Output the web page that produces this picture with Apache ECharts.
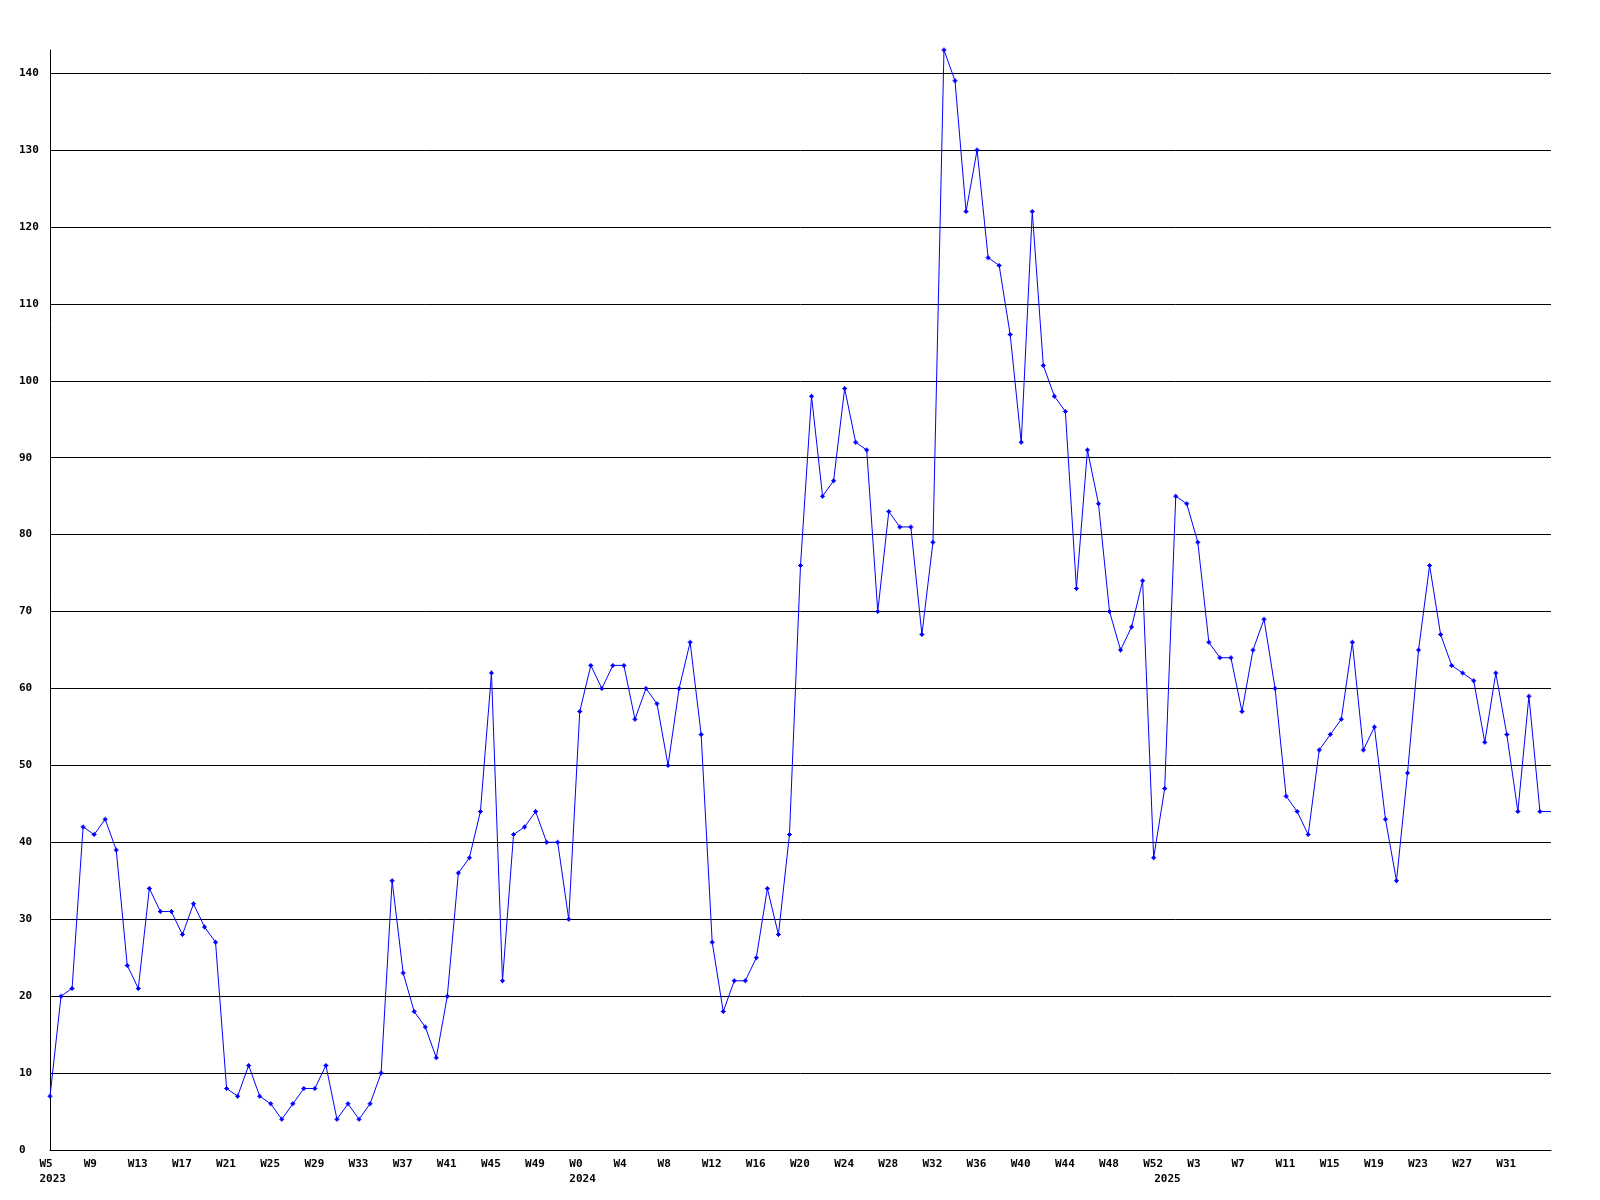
<!DOCTYPE html>
<html>
<head>
<meta charset="utf-8">
<script src="https://cdn.jsdelivr.net/npm/echarts@6/dist/echarts.min.js"></script>
<style>
html,body{margin:0;padding:0;background:#ffffff;}
#chart{width:1600px;height:1200px;}
</style>
</head>
<body>
<div id="chart"></div>
<script>
// ---- data ----
const years = [2023, 2024, 2025];
const firstWeeks = [5, 0, 0];
const values2023 = [7,20,21,42,41,43,39,24,21,34,31,31,28,32,29,27,8,7,11,7,6,4,6,8,8,11,4,6,4,6,10,35,23,18,16,12,20,36,38,44,62,22,41,42,44,40,40,30];
const values2024 = [57,63,60,63,63,56,60,58,50,60,66,54,27,18,22,22,25,34,28,41,76,98,85,87,99,92,91,70,83,81,81,67,79,143,139,122,130,116,115,106,92,122,102,98,96,73,91,84,70,65,68,74,38];
const values2025 = [47,85,84,79,66,64,64,57,65,69,60,46,44,41,52,54,56,66,52,55,43,35,49,65,76,67,63,62,61,53,62,54,44,59,44,44];
const yMin = 0;
const yMax = 143;
const yStep = 10;
const labelEvery = 4;

// ---- build categories ----
const valuesByYear = [values2023, values2024, values2025];
const categories = [];
const values = [];
const yearStart = [];
const yearOf = [];
const weekOf = [];
valuesByYear.forEach(function (arr, k) {
  arr.forEach(function (v, j) {
    categories.push(years[k] + '-W' + (firstWeeks[k] + j));
    values.push(v);
    yearStart.push(j === 0);
    yearOf.push(years[k]);
    weekOf.push(firstWeeks[k] + j);
  });
});
const lastIdx = values.length - 1;
const seriesData = values.map(function (v, i) {
  return i === lastIdx ? { value: v, symbol: 'none' } : v;
});

const font = { fontFamily: 'DejaVu Sans Mono', fontWeight: 'bold', fontSize: 11, color: '#000000' };
const markerPath = 'path://M2,0H3V1H4V2H5V3H4V4H3V5H2V4H1V3H0V2H1V1H2Z';

const chart = echarts.init(document.getElementById('chart'), null, { renderer: 'canvas' });
chart.setOption({
  animation: false,
  backgroundColor: '#ffffff',
  grid: [
    { left: 50, right: 49, top: 50, bottom: 50, containLabel: false },
    { left: 39.5, right: 59.5, top: 50, bottom: 50, containLabel: false }
  ],
  xAxis: [
    {
      type: 'category', gridIndex: 0, data: categories, boundaryGap: false,
      axisLine: { show: true, lineStyle: { color: '#000000', width: 1 } },
      axisTick: { show: false }, axisLabel: { show: false }, splitLine: { show: false }
    },
    {
      type: 'category', gridIndex: 1, data: categories, boundaryGap: false,
      axisLine: { show: false }, axisTick: { show: false }, splitLine: { show: false },
      axisLabel: Object.assign({
        show: true,
        align: 'left',
        verticalAlign: 'top',
        margin: 7,
        lineHeight: 15,
        hideOverlap: false,
        interval: function (i) { return i < lastIdx && (i % labelEvery === 0 || yearStart[i]); },
        formatter: function (val, i) {
          if (i >= lastIdx) { return ''; }
          var top = (i % labelEvery === 0) ? ('W' + weekOf[i]) : '';
          return yearStart[i] ? (top + '\n' + yearOf[i]) : top;
        }
      }, font)
    }
  ],
  yAxis: [
    {
      type: 'value', gridIndex: 0, min: yMin, max: yMax, interval: yStep,
      axisLine: { show: true, lineStyle: { color: '#000000', width: 1 } },
      axisTick: { show: false },
      axisLabel: Object.assign({ show: true, align: 'left', margin: 31, showMaxLabel: false,
        formatter: function (v) { return (v % yStep === 0) ? String(v) : ''; } }, font),
      splitLine: { show: true, showMaxLine: false, lineStyle: { color: '#000000', width: 1 } }
    },
    { type: 'value', gridIndex: 1, min: yMin, max: yMax, show: false }
  ],
  series: [
    {
      type: 'line',
      xAxisIndex: 0, yAxisIndex: 0,
      data: seriesData,
      symbol: markerPath,
      symbolSize: 5,
      showAllSymbol: true,
      lineStyle: { color: '#0000ff', width: 1 },
      itemStyle: { color: '#0000ff', borderWidth: 0 },
      emphasis: { disabled: true },
      silent: true
    }
  ]
});
</script>
</body>
</html>
